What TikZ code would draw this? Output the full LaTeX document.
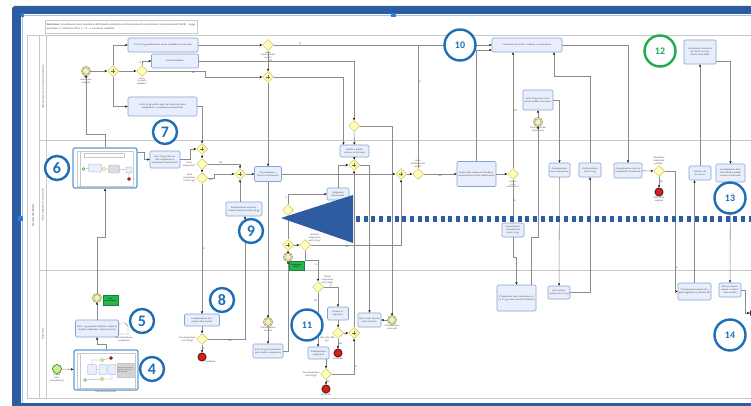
\documentclass[tikz,border=0pt]{standalone}
\usepackage{fontspec}
\setmainfont{Carlito}
\usetikzlibrary{arrows.meta,shapes.geometric,calc}
\definecolor{frameblue}{RGB}{46,92,160}
\definecolor{handleblue}{RGB}{45,125,225}
\definecolor{lightframe}{RGB}{160,190,230}
\definecolor{lanegrey}{RGB}{200,200,200}
\definecolor{flowgrey}{RGB}{140,140,140}
\definecolor{taskfill}{RGB}{232,238,252}
\definecolor{taskline}{RGB}{130,165,212}
\definecolor{gwfill}{RGB}{255,255,185}
\definecolor{gwline}{RGB}{200,188,90}
\definecolor{numblue}{RGB}{30,110,182}
\definecolor{numgreen}{RGB}{32,170,78}
\definecolor{taggreen}{RGB}{38,182,78}
\definecolor{endred}{RGB}{212,32,32}
\definecolor{startgreen}{RGB}{205,236,140}
\definecolor{evfill}{RGB}{242,240,198}
\definecolor{evline}{RGB}{150,140,70}
\definecolor{subline}{RGB}{95,155,212}
\definecolor{txtgrey}{RGB}{80,80,80}
\newcommand{\bpmnfont}{\fontsize{2.4}{2.9}\selectfont}

\begin{document}
\begin{tikzpicture}[x=1pt,y=-1pt,
  task/.style={draw=taskline, fill=taskfill, rounded corners=1.2pt, line width=0.6pt, align=center, inner xsep=1pt, inner ysep=0.5pt, font=\bpmnfont, text=txtgrey},
  gw/.style={diamond, draw=gwline, fill=gwfill, line width=0.5pt, minimum size=11pt, inner sep=0pt},
  pargw/.style={gw, path picture={\draw[gwline!60!black, line width=0.6pt] (path picture bounding box.center) +(-2.2pt,0) -- +(2.2pt,0) (path picture bounding box.center) +(0,-2.2pt) -- +(0,2.2pt);}},
  ev/.style={circle, draw=evline, fill=evfill, line width=0.5pt, minimum size=8pt, inner sep=0pt},
  interev/.style={ev, double=evfill, double distance=0.7pt},
  startev/.style={ev, draw=green!45!black, fill=startgreen, minimum size=9pt},
  endev/.style={ev, draw=endred!55!black, fill=endred, line width=1pt},
  num/.style={circle, draw=numblue, fill=white, line width=2.4pt, text=numblue, inner sep=0pt, minimum size=24pt, font=\bfseries\fontsize{16}{16}\selectfont},
  bignum/.style={num, minimum size=31pt, font=\bfseries\fontsize{10}{10}\selectfont},
  flow/.style={draw=flowgrey, line width=0.55pt, -{Stealth[length=2.6pt,width=2.2pt,color=black]}},
  link/.style={draw=flowgrey, line width=0.55pt},
  lbl/.style={font=\bpmnfont, text=txtgrey, align=center, inner sep=0.5pt},
  lane/.style={draw=lanegrey, line width=0.7pt},
  tag/.style={fill=taggreen, draw=taggreen!70!black, line width=0.3pt, font=\fontsize{2}{2.4}\selectfont, align=center, inner sep=0pt},
  sub/.style={draw=subline, fill=white, line width=1.2pt, rounded corners=2pt}]
\useasboundingbox (0,0) rectangle (751,406);

\fill[frameblue, rounded corners=3pt] (12,6) rectangle (800,420);
\fill[white] (21,14) rectangle (800,402.5);
\draw[lightframe, line width=1pt] (22,14) -- (22,402.5);
\draw[lightframe, line width=1pt] (22,15.5) -- (800,15.5);
\fill[handleblue] (20.5,13) rectangle (23.5,17);
\fill[handleblue] (391,13) rectangle (396,17);
\fill[handleblue] (18,216) rectangle (23,221);

\node[draw=lanegrey, line width=0.5pt, anchor=north west, inner sep=1.5pt, text width=149pt, minimum height=13pt, font=\fontsize{2.6}{3.1}\selectfont, align=left, text=txtgrey] (titolo) at (45,20) {\textbf{Descrizione:} procedimento della valutazione dell'impatto ambientale e del procedimento autorizzatorio unico provinciale (PAUR) -- Legge provinciale 17 settembre 2013, n. 19 -- e successive modifiche};

\draw[lane] (760,35) -- (27,35) -- (27,398) -- (760,398);
\draw[lane] (39.5,35) -- (39.5,398);
\draw[lane] (46,35) -- (46,398);
\draw[lane] (39.5,140) -- (760,140);
\draw[lane] (39.5,270) -- (760,270);
\node[lbl, rotate=90, font=\fontsize{3}{3.5}\selectfont] (pool) at (33,216) {Servizio VIA-PAUR};
\node[lbl, rotate=90] (lane1) at (43,87) {Ufficio valutazioni e autorizzazioni ambientali};
\node[lbl, rotate=90] (lane2) at (43,205) {Ufficio integrazioni e osservazioni};
\node[lbl, rotate=90] (lane3) at (43,334) {Proponente};

\node[interev, label={[lbl]below:Avvio\\valutazione\\progetto}] (ev_avvio) at (86,71) {};
\node[pargw] (pg_a) at (113,71) {};
\node[gw, label={[lbl]below:Serve\\inchiesta\\pubblica?}] (xg_inch) at (142,71) {};
\node[task, text width=68pt, minimum height=14pt] (t_pubb) at (163,45) {Entro 20 gg pubblicazione avviso al pubblico sul sito web};
\node[task, text width=45pt, minimum height=14pt] (t_inch) at (175,61) {Inchiesta Pubblica};
\node[task, text width=67pt, minimum height=19pt] (t_parer) at (162.5,106.5) {Entro 30 gg verifica degli enti interessati della adeguatezza e completezza documentale};
\node[gw, label={[lbl]below:Serve\\conferenza dei\\servizi?}] (xg_cds1) at (268,45) {};
\node[pargw] (pg_b) at (268,77) {};
\node[gw] (xg_c) at (354,126) {};
\node[task, text width=68pt, minimum height=14pt] (t_conf) at (527,45) {Conferenza dei Servizi: indizione e convocazione};
\node[task, text width=28pt, minimum height=20pt] (t_dieci) at (538,100) {Entro 10 gg invio al Proponente delle osservazioni};
\node[interev, label={[lbl]below:Osservazioni del\\Proponente}] (ev_oss) at (538,122) {};
\node[task, text width=30pt, minimum height=24pt] (t_concl) at (700,52) {Conclusione Conferenza dei Servizi con Decisione finale PAUR};

\node[sub, minimum width=64pt, minimum height=40pt] (sp_verif) at (105,168) {};
\draw[lanegrey, line width=0.3pt] (77,151) rectangle (133,186);
\draw[lanegrey, line width=0.3pt] (80,151) -- (80,186);
\draw[lanegrey, line width=0.3pt, fill=white] (84,153) rectangle (124,157.5);
\node[startev, minimum size=3pt, line width=0.3pt] (m6a) at (83.5,169) {};
\node[task, minimum width=13pt, minimum height=8pt, line width=0.3pt] (m6b) at (95,168) {};
\node[gw, minimum size=4pt, line width=0.3pt] (m6c) at (104,169) {};
\node[task, minimum width=11pt, minimum height=8pt, line width=0.3pt, fill=lanegrey!60] (m6d) at (114,169) {};
\node[task, minimum width=6pt, minimum height=6pt, line width=0.3pt] (m6e) at (129,170) {};
\node[endev, minimum size=3pt, line width=0.4pt] (m6f) at (129,179) {};
\draw[flowgrey, line width=0.3pt] (m6a) -- (m6b) -- (m6c) -- (m6d) -- (m6e) -- (m6f);
\node[task, text width=28pt, minimum height=17pt] (t_integr) at (165,159.5) {entro 30 gg esito verifica adeguatezza e completezza documentale};
\node[pargw] (pg_c) at (202,149) {};
\node[gw, label={[lbl]left:Serve\\integrazioni?}] (xg_serve) at (202,164) {};
\node[gw, label={[lbl]left:Avvio\\integrazioni\\entro 15 gg?}] (xg_avvio) at (202,178) {};
\node[pargw] (pg_d) at (240,174) {};
\node[task, text width=34pt, minimum height=14pt] (t_pred) at (244,209) {Predisposizione documentazione integrativa entro 30 gg};
\node[task, text width=25pt, minimum height=15pt] (t_comun) at (268,174) {Comunicazione a Servizi e Osservazioni};
\node[task, text width=27pt, minimum height=12pt] (t_verpub) at (354.5,151) {Verifica e pubblicazione sul sito web};
\node[pargw] (pg_e) at (354,165) {};
\node[task, text width=20pt, minimum height=12pt] (t_integr2) at (338,194) {Integrazioni documentali};
\node[gw, label={[lbl]below right:Avvio\\integrazioni\\entro 30 gg?}] (xg_int) at (288,210) {};
\node[pargw] (pg_f) at (288,245) {};
\node[gw, label={[lbl]above right:Richiesta\\integrazioni\\entro 30 gg?}] (xg_int2) at (305,245) {};
\node[interev] (ev_sosp) at (288,257) {};
\node[tag, minimum width=15pt, minimum height=9pt] (tag_sosp) at (296.5,266) {Sospensione\\termini};
\node[pargw] (pg_g) at (401,174) {};
\node[gw, label={[lbl]above:Serve\\conferenza dei\\servizi?}] (xg_cds2) at (418,174) {};
\node[task, text width=37pt, minimum height=25pt] (t_anal) at (476.5,174) {Analisi della conferenza istruttoria, predisposizione esiti e pubblicazione};
\node[gw, label={[lbl]below:Verifica\\esito\\conferenza?}] (xg_esito) at (513,174) {};
\node[task, text width=20pt, minimum height=14pt] (t_comun2) at (513,230) {Comunicazione al Proponente entro 15 gg};
\node[task, text width=19pt, minimum height=14pt] (t_pred2) at (559.5,170) {Predisposizione nuovo documento};
\node[task, text width=20pt, minimum height=14pt] (t_pred3) at (590,170) {Predisposizione entro 10 gg};
\node[task, text width=26pt, minimum height=15pt] (t_form) at (628,170.5) {Formalizzazione esito su Compatibilità Ambientale};
\node[gw, label={[lbl]above:Valutazione\\ambientale\\positiva?}] (xg_amb) at (659,171) {};
\node[endev, label={[lbl]below:Esito PAUR\\negativo}] (end_neg) at (659,192) {};
\node[task, text width=20pt, minimum height=14pt] (t_ult) at (700,173) {Ulteriori atti di assenso};
\node[task, text width=27pt, minimum height=18pt] (t_form2) at (730.5,173) {Formalizzazione Decisione PAUR e pubblicazione sul sito web};

\node[startev, label={[lbl]below:Istanza\\avvio\\procedimento}] (ev_start) at (57,369) {};
\node[sub, minimum width=64pt, minimum height=40pt, label={[lbl]below:PRE-PROCEDIMENTO}] (sp_pre) at (106,370) {};
\draw[lanegrey, line width=0.3pt] (77,353) rectangle (135,388);
\draw[lanegrey, line width=0.3pt] (80,353) -- (80,388);
\node[gw, minimum size=4pt, line width=0.3pt, fill=startgreen] (m4a) at (102,360) {};
\node[endev, minimum size=3pt, line width=0.4pt] (m4b) at (111,358) {};
\node[task, minimum width=9pt, minimum height=10pt, line width=0.3pt] (m4c) at (92,369.5) {};
\node[task, minimum width=8pt, minimum height=10pt, line width=0.3pt] (m4d) at (103,369.5) {};
\node[task, minimum width=8pt, minimum height=10pt, line width=0.3pt] (m4e) at (112,369.5) {};
\node[fill=lanegrey!80, draw=lanegrey, line width=0.3pt, minimum width=18pt, minimum height=14pt, inner sep=0.5pt, text width=17pt, font=\fontsize{1.6}{2}\selectfont, text=txtgrey, align=left] (m4f) at (126,370) {Verifica preliminare del progetto e delle procedure applicabili};
\node[gw, minimum size=4pt, line width=0.3pt, fill=startgreen] (m4g) at (102,379) {};
\node[startev, minimum size=3pt, line width=0.3pt] (m4h) at (85,380) {};
\draw[flowgrey, line width=0.3pt] (m4c) -- (m4d) -- (m4e) (m4a) -- (m4b) (m4h) -- (m4g) (m4a) -| (m4c) (m4g) -| (m4e);
\node[task, text width=41pt, minimum height=17pt] (t_istanza) at (97,328.5) {Entro 5 gg progetto definitivo, studio di impatto ambientale e istanza di avvio};
\draw[flowgrey, line width=0.4pt, fill=white] (119,323) -- (125,323) -- (128,326) -- (128,334) -- (119,334) -- cycle;
\node[lbl] (doc) at (124,339) {Documentazione\\progettuale};
\node[interev] (ev_ricev) at (97,298) {};
\node[tag, minimum width=15pt, minimum height=10pt] (tag_ricev) at (110.5,300) {Avvio\\procedimento};
\node[task, text width=33pt, minimum height=12pt] (t_predint) at (202,320) {Predisposizione integrazioni documentali};
\node[gw, label={[lbl]left:Invio integrazioni\\entro 30gg?}] (xg_inv) at (202,339) {};
\node[endev, label={[lbl]below right:Archiviata}] (end_a) at (202,357) {};
\node[interev, label={[lbl]below:Comunicazione\\ricevuta}] (ev_com1) at (268,322) {};
\node[task, text width=28pt, minimum height=14pt] (t_entro10) at (268,351) {Entro 10 gg il Proponente può chiedere sospensione};
\node[gw, label={[lbl]above right:Chiede\\integrazioni\\entro 30gg?}] (xg_chied) at (318,287) {};
\node[task, text width=19pt, minimum height=13pt] (t_prepara) at (338,313.5) {Prepara integrazioni};
\node[gw, label={[lbl]below left:Invia entro 180\\gg?}] (xg_180) at (338,333) {};
\node[endev, label={[lbl]below:Archiviata}] (end_b) at (338,353) {};
\node[task, text width=19pt, minimum height=12pt] (t_predint2) at (318.5,353) {Predisposizione integrazioni};
\node[gw, label={[lbl]left:Invio integrazioni\\entro 15gg?}] (xg_15) at (326,374) {};
\node[endev, label={[lbl]below:Archiviata}] (end_c) at (326,389) {};
\node[pargw] (pg_h) at (354,333) {};
\node[task, text width=21pt, minimum height=14pt] (t_nonst) at (369.5,320) {Non è stato ricevuto alcun riscontro};
\node[interev, label={[lbl]below:Comunicazione\\nuovi esiti}] (ev_com2) at (392,320) {};
\node[task, text width=37pt, minimum height=26pt] (t_prop) at (516.5,298) {Il Proponente deve trasmettere entro 15 gg nuove versioni al Pubblico};
\node[task, text width=20pt, minimum height=13pt] (t_invio) at (559,292.5) {Invio comunicazione entro 15 gg};
\node[task, text width=31pt, minimum height=17pt] (t_prop2) at (694.5,291.5) {Il Proponente presenta Progetto aggiornato e ulteriori atti};
\node[task, text width=20pt, minimum height=14pt] (t_rilas) at (730,290) {Rilascio comunicazione e trasmissione risultati};
\node[endev] (end_fin) at (754,313) {};

\draw[flow] (ev_avvio) -- (pg_a);
\draw[flow] (pg_a) -- (xg_inch);
\draw[flow] (pg_a) |- (t_pubb);
\draw[flow] (pg_a) |- (t_parer);
\draw[flow] (xg_inch) |- (t_inch) node[lbl, pos=0.25, left] {SI};
\draw[flow] (xg_inch) -- node[lbl, pos=0.8, below] {NO} (205,71) |- (pg_b);
\draw[flow] (t_pubb) -- (xg_cds1);
\draw[flow] (t_inch) -| (xg_c);
\draw[flow] (xg_cds1) -- (pg_b) node[lbl, midway, right] {NO};
\draw[flow] (xg_cds1) -- (t_conf) node[lbl, pos=0.12, above] {SI};
\draw[flow] (pg_b) -| ([xshift=-11pt]t_verpub.north);
\draw[flow] (pg_b) -- (t_comun);
\draw[flow] (xg_c) -- (t_verpub);
\draw[flow] (xg_c) -| (ev_com2);
\draw[flow] (sp_verif.north) -- ++(0,-13) -| (ev_avvio);
\draw[flow] ([yshift=16pt]sp_verif.east) -- (144,152) |- (t_integr);
\draw[flow] (t_integr.east) -- (190,159.5) |- (pg_c);
\draw[flow] (t_parer) -| (pg_c);
\draw[flow] (pg_c) -- (xg_serve);
\draw[flow] (xg_serve) -- (xg_avvio);
\draw[flow] (xg_serve) -| (pg_d) node[lbl, pos=0.2, above] {NO};
\draw[flow] (xg_avvio) -- node[lbl, below] {NO} (214,178) |- (pg_d);
\draw[flow] (xg_avvio) -- (t_predint) node[lbl, midway, right] {SI};
\draw[flow] (t_predint) -- (xg_inv);
\draw[flow] (xg_inv) -- (end_a) node[lbl, midway, right] {SI};
\draw[flow] (xg_inv) -| ([xshift=1pt]t_pred.south) node[lbl, pos=0.3, below] {NO};
\draw[flow] (t_pred.north -| pg_d) -- (pg_d);
\draw[flow] (pg_d) -- (t_comun);
\draw[flow] (t_comun) -- (pg_g);
\draw[flow] (pg_g) -- (xg_cds2);
\draw[link] (xg_cds2) -- (418,45) node[lbl, pos=0.7, right] {SI};
\draw[flow] (xg_cds2) -- (t_anal) node[lbl, midway, below] {NO};
\draw[flow] (t_anal) |- ([yshift=-5pt]t_conf.west);
\draw[flow] (t_anal) -- (xg_esito);
\draw[flow] (xg_esito) -- (xg_esito |- t_conf.south) node[lbl, midway, right] {NO};
\draw[flow] (xg_esito) -- (t_comun2) node[lbl, midway, right] {SI};
\draw[flow] (t_comun2.south) -- ++(0,20) -| (t_prop);
\draw[flow] ([xshift=15pt]t_prop.north) -- ++(0,-47) -| (ev_oss);
\draw[flow] (ev_oss) -- (t_dieci);
\draw[flow] (t_dieci) -| (t_pred2);
\draw[flow] (t_pred2) -- (t_invio);
\draw[flow] (t_invio) -| (t_pred3);
\draw[flow] (t_pred3.north) -- ++(0,-86) -| ([xshift=27pt]t_conf.south);
\draw[flow] (t_conf) -| (t_form);
\draw[flow] (t_form) -- (xg_amb);
\draw[flow] (xg_amb) -- (end_neg) node[lbl, midway, right] {NO};
\draw[flow] (xg_amb) -- (675,171) |- (t_prop2) node[lbl, pos=0.4, right] {SI};
\draw[flow] (t_prop2.north) -- (t_prop2.north |- t_ult.south);
\draw[flow] (t_ult) -- (t_concl);
\draw[flow] ([yshift=-9pt]t_concl.east) -| (t_form2);
\draw[flow] (t_form2) -- (t_rilas);
\draw[flow] (t_rilas.east) -- (745,290) |- (end_fin);

\draw[flow] (ev_start) -- (sp_pre);
\draw[flow] (sp_pre.north) -- ++(0,-5) -| (t_istanza);
\draw[flow] (t_istanza) -- (ev_ricev);
\draw[flow] (ev_ricev) -- (97,237) -| (sp_verif);
\draw[flow] (t_comun) -- (ev_com1);
\draw[flow] (ev_com1) -- (t_entro10);
\draw[flow] (t_entro10) -| (ev_sosp);
\draw[flow] (ev_sosp) -- (pg_f);
\draw[flow] (pg_f) -- (xg_int);
\draw[flow] (pg_f) -- (xg_int2);
\draw[flow] (xg_int) |- (t_integr2) node[lbl, pos=0.3, left] {SI};
\draw[flow] (t_integr2) |- (pg_e);
\draw[flow] (t_verpub) -- (pg_e);
\draw[flow] (pg_e) -| (t_nonst);
\draw[flow] (ev_com2) -- (t_nonst);
\draw[flow] (pg_h) -- (pg_e);
\draw[flow] (xg_int2) -| (pg_g) node[lbl, pos=0.2, below] {NO};
\draw[flow] (xg_int2.south) -- ++(0,10) -| (xg_chied) node[lbl, pos=0.6, left] {SI};
\draw[flow] (xg_chied) -| (t_prepara) node[lbl, pos=0.25, above] {SI};
\draw[flow] (xg_chied) -- (xg_chied |- t_predint2.north) node[lbl, pos=0.15, left] {NO};
\draw[flow] (t_prepara) -- (xg_180);
\draw[flow] (xg_180) -- (end_b) node[lbl, midway, right] {NO};
\draw[flow] (xg_180) -- (pg_h);
\draw[flow] (xg_15 |- t_predint2.south) -- (xg_15);
\draw[flow] (xg_15) -- (end_c) node[lbl, midway, right] {NO};
\draw[flow] (xg_15) -| (pg_h) node[lbl, pos=0.6, right] {SI};

\node[num] (c4) at (152,369) {4};
\node[num] (c5) at (142,321) {5};
\node[num] (c6) at (57,168) {6};
\node[num] (c7) at (165,132) {7};
\node[num] (c8) at (222,300) {8};
\node[num] (c9) at (251,231) {9};
\node[bignum] (c10) at (460,45) {10};
\node[bignum] (c11) at (307,325) {11};
\node[bignum, draw=numgreen, text=numgreen] (c12) at (660,51) {12};
\node[bignum] (c13) at (730,198) {13};
\node[bignum] (c14) at (730,335) {14};

\fill[frameblue] (281,218) -- (353,195) -- (353,243) -- cycle;
\draw[frameblue, line width=6.5pt, dash pattern=on 4pt off 3.7pt] (356,219) -- (760,219);
\end{tikzpicture}
\end{document}
